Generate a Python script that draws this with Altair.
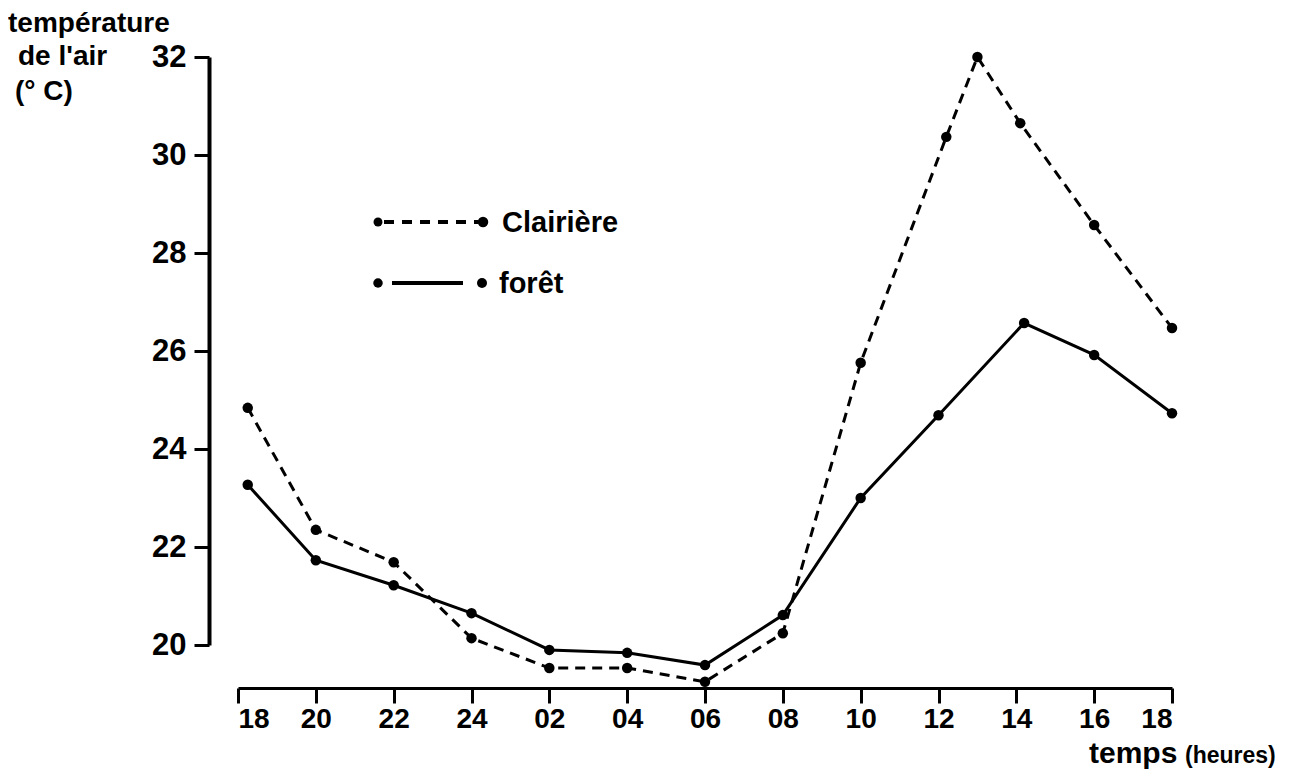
import altair as alt
import pandas as pd

# ---- data ----
tick_hours = [0, 2, 4, 6, 8, 10, 12, 14, 16, 18, 20, 22, 24]
tick_labels = ["18", "20", "22", "24", "02", "04", "06", "08", "10", "12", "14", "16", "18"]
y_ticks = [20, 22, 24, 26, 28, 30, 32]

clairiere_h = [0.25, 2, 4, 6, 8, 10, 12, 14, 16, 18.2, 19, 20.1, 22, 24]
clairiere_t = [24.84, 22.35, 21.69, 20.14, 19.53, 19.53, 19.25, 20.24, 25.76, 30.37, 32.0, 30.65, 28.57, 26.47]

foret_h = [0.25, 2, 4, 6, 8, 10, 12, 14, 16, 18, 20.2, 22, 24]
foret_t = [23.27, 21.73, 21.22, 20.65, 19.9, 19.84, 19.59, 20.61, 23.0, 24.69, 26.57, 25.92, 24.73]

FONT = "Liberation Sans"

df_c = pd.DataFrame({"h": clairiere_h, "t": clairiere_t})
df_f = pd.DataFrame({"h": foret_h, "t": foret_t})
one = pd.DataFrame({"a": [0]})

label_expr = "[" + ",".join(f"'{l}'" for l in tick_labels) + "][round(datum.value/2)]"

x = alt.X(
    "h:Q",
    scale=alt.Scale(domain=[0, 24], nice=False, zero=False),
    axis=alt.Axis(
        values=tick_hours, labelExpr=label_expr, title=None, grid=False,
        offset=43, tickSize=15, tickWidth=3, domainWidth=3,
        domainColor="black", tickColor="black", labelColor="black",
        labelFont=FONT, labelFontSize=28, labelFontWeight="bold",
        labelPadding=2, labelBaseline="top",
    ),
)
y = alt.Y(
    "t:Q",
    scale=alt.Scale(domain=[20, 32], nice=False, zero=False),
    axis=alt.Axis(
        values=y_ticks, title=None, grid=False,
        offset=29, tickSize=15, tickWidth=3, domainWidth=4,
        domainColor="black", tickColor="black", labelColor="black",
        labelFont=FONT, labelFontSize=31, labelFontWeight="bold",
        labelPadding=8,
    ),
)

line_c = alt.Chart(df_c).mark_line(color="black", strokeWidth=3, strokeDash=[10, 7]).encode(x=x, y=y)
pts_c = alt.Chart(df_c).mark_point(filled=True, size=110, color="black", opacity=1).encode(x=x, y=y)
line_f = alt.Chart(df_f).mark_line(color="black", strokeWidth=3).encode(x=x, y=y)
pts_f = alt.Chart(df_f).mark_point(filled=True, size=110, color="black", opacity=1).encode(x=x, y=y)

def txt(s, px, py, size, weight="bold"):
    return alt.Chart(one).mark_text(
        text=s, align="left", baseline="alphabetic", font=FONT,
        fontSize=size, fontWeight=weight, color="black",
    ).encode(x=alt.value(px), y=alt.value(py))

def dot(px, py, size=90):
    return alt.Chart(one).mark_point(filled=True, size=size, color="black", opacity=1).encode(
        x=alt.value(px), y=alt.value(py))

def seg(px1, px2, py, dash=None):
    kw = dict(color="black", strokeWidth=4)
    if dash:
        kw["strokeDash"] = dash
    return alt.Chart(one).mark_rule(**kw).encode(x=alt.value(px1), x2=alt.value(px2), y=alt.value(py))

legend = [
    seg(146, 240, 165, [10, 8]), dot(140, 165, 80), dot(245, 165, 110),
    txt("Clairière", 264, 175, 29),
    seg(154, 225, 226), dot(140, 226, 90), dot(244, 226, 100),
    txt("forêt", 261, 236, 29),
]

titles = [
    txt("température", -230, -25, 28),
    txt("de l'air", -220, 8, 28),
    txt("(° C)", -223, 43, 28),
    txt("temps", 851, 706, 30),
    txt("(heures)", 947, 706, 23),
]

chart = alt.layer(line_c, line_f, pts_c, pts_f, *legend, *titles).properties(
    width=934, height=588,
    autosize=alt.AutoSizeParams(type="none"),
    padding={"left": 230, "top": 49, "right": 130, "bottom": 124},
    background="white",
).configure_view(stroke=None, strokeWidth=0)

chart.save("out.html", embed_options={"renderer": "svg", "actions": False})
